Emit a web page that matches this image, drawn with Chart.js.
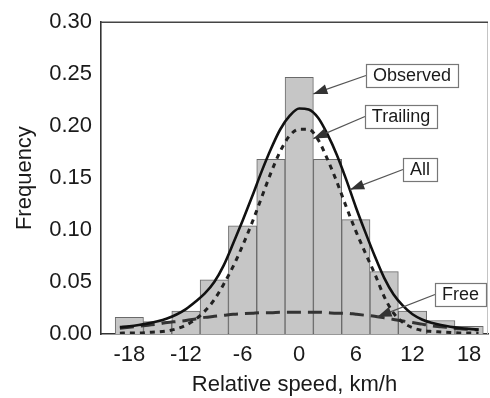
<!DOCTYPE html>
<html>
<head>
<meta charset="utf-8">
<script src="https://cdn.jsdelivr.net/npm/chart.js@4/dist/chart.umd.min.js"></script>
<style>
  html, body { margin: 0; padding: 0; background: #fff; overflow: hidden; }
  #wrap { width: 490px; height: 398px; position: relative; }
</style>
</head>
<body>
<div id="wrap"><canvas id="c" width="490" height="398"></canvas></div>
<script>
// Histogram of relative speed (3 km/h bins) with fitted distributions
const binCenters = [-18, -15, -12, -9, -6, -3, 0, 3, 6, 9, 12, 15, 18];
const observed   = [0.016, 0.012, 0.022, 0.052, 0.104, 0.168, 0.247, 0.168, 0.110, 0.060, 0.022, 0.013, 0.0075];

const curveX = [-19, -18, -17, -16, -15, -14, -13, -12, -11, -10, -9, -8, -7, -6, -5, -4, -3, -2, -1, 0,
                1, 2, 3, 4, 5, 6, 7, 8, 9, 10, 11, 12, 13, 14, 15, 16, 17, 18, 19];
const allFit = [0.0066, 0.0075, 0.0087, 0.0102, 0.0122, 0.0150, 0.0188, 0.0240, 0.0310, 0.0390,
                0.0500, 0.0660, 0.0870, 0.1090, 0.1320, 0.1560, 0.1780, 0.1970, 0.2100, 0.2170,
                0.2160, 0.2080, 0.1920, 0.1720, 0.1480, 0.1220, 0.0980, 0.0750, 0.0540, 0.0380,
                0.0270, 0.0190, 0.0140, 0.0108, 0.0086, 0.0070, 0.0058, 0.0049, 0.0042];
const trailingFit = [0.0008, 0.0010, 0.0010, 0.0015, 0.0020, 0.0030, 0.0050, 0.0085, 0.0140, 0.0220,
                     0.0330, 0.0480, 0.0650, 0.0850, 0.1070, 0.1310, 0.1550, 0.1760, 0.1910, 0.1970,
                     0.1970, 0.1870, 0.1680, 0.1460, 0.1220, 0.0990, 0.0780, 0.0580, 0.0360, 0.0200,
                     0.0110, 0.0060, 0.0035, 0.0025, 0.0020, 0.0015, 0.0010, 0.0010, 0.0008];
const freeFit = [0.0055, 0.0065, 0.0075, 0.0085, 0.0095, 0.0110, 0.0120, 0.0130, 0.0145, 0.0160,
                 0.0170, 0.0180, 0.0190, 0.0195, 0.0200, 0.0205, 0.0205, 0.0210, 0.0210, 0.0210,
                 0.0210, 0.0210, 0.0205, 0.0200, 0.0200, 0.0190, 0.0180, 0.0170, 0.0155, 0.0140,
                 0.0125, 0.0110, 0.0095, 0.0080, 0.0070, 0.0060, 0.0050, 0.0045, 0.0040];

const xTickValues = [-18, -12, -6, 0, 6, 12, 18];
const yTickValues = [0, 0.05, 0.10, 0.15, 0.20, 0.25, 0.30];

// Labelled callouts: box centre and arrow tip, both in data units
const calloutText = ['Observed', 'Trailing', 'All', 'Free'];
const calloutBoxX = [12.0, 10.8, 12.8, 17.05];
const calloutBoxY = [0.2486, 0.2094, 0.158, 0.0382];
const calloutTipX = [1.5, 1.5, 5.4, 8.3];
const calloutTipY = [0.231, 0.188, 0.139, 0.0165];

const FONT = '"Liberation Sans", Arial, Helvetica, sans-serif';
const pts = (xs, ys) => xs.map((x, i) => ({ x: x, y: ys[i] }));

const framePlugin = {
  id: 'frame',
  beforeDatasetsDraw(chart) {
    const { ctx, chartArea: a } = chart;
    ctx.save();
    ctx.strokeStyle = '#c4c4c4';
    ctx.lineWidth = 1;
    ctx.beginPath();
    ctx.moveTo(a.right - 0.5, a.top);
    ctx.lineTo(a.right - 0.5, a.bottom);
    ctx.stroke();
    ctx.strokeStyle = '#444';
    ctx.lineWidth = 1.6;
    ctx.beginPath();
    ctx.moveTo(a.left, a.top);
    ctx.lineTo(a.right, a.top);
    ctx.stroke();
    ctx.restore();
  }
};

const calloutPlugin = {
  id: 'callouts',
  afterDatasetsDraw(chart) {
    const { ctx, scales: { x, y } } = chart;
    ctx.save();
    ctx.font = '18px ' + FONT;
    calloutText.forEach((text, i) => {
      const cx = x.getPixelForValue(calloutBoxX[i]);
      const cy = y.getPixelForValue(calloutBoxY[i]);
      const w = Math.round(ctx.measureText(text).width + 14);
      const h = 23;
      const left = Math.round(cx - w / 2), top = Math.round(cy - h / 2);
      const tx = x.getPixelForValue(calloutTipX[i]);
      const ty = y.getPixelForValue(calloutTipY[i]);
      const sx = left, sy = top + h / 2;
      // leader line
      ctx.strokeStyle = '#555';
      ctx.lineWidth = 1.3;
      ctx.beginPath();
      ctx.moveTo(sx, sy);
      ctx.lineTo(tx, ty);
      ctx.stroke();
      // arrow head
      const ang = Math.atan2(ty - sy, tx - sx);
      const L = 14, W = 5;
      ctx.fillStyle = '#333';
      ctx.beginPath();
      ctx.moveTo(tx, ty);
      ctx.lineTo(tx - L * Math.cos(ang) + W * Math.sin(ang), ty - L * Math.sin(ang) - W * Math.cos(ang));
      ctx.lineTo(tx - L * Math.cos(ang) - W * Math.sin(ang), ty - L * Math.sin(ang) + W * Math.cos(ang));
      ctx.closePath();
      ctx.fill();
      // box
      ctx.fillStyle = '#fff';
      ctx.fillRect(left, top, w, h);
      ctx.strokeStyle = '#777';
      ctx.lineWidth = 1.2;
      ctx.strokeRect(left + 0.5, top + 0.5, w, h);
      ctx.fillStyle = '#1a1a1a';
      ctx.textAlign = 'center';
      ctx.textBaseline = 'middle';
      ctx.fillText(text, left + w / 2, top + h / 2 + 1);
    });
    ctx.restore();
  }
};

new Chart(document.getElementById('c'), {
  type: 'bar',
  data: {
    datasets: [
      {
        type: 'line', label: 'All', data: pts(curveX, allFit),
        borderColor: '#111', borderWidth: 2.6, pointRadius: 0,
        cubicInterpolationMode: 'monotone', fill: false, order: 1
      },
      {
        type: 'line', label: 'Trailing', data: pts(curveX, trailingFit),
        borderColor: '#222', borderWidth: 3, borderDash: [5, 5], pointRadius: 0,
        cubicInterpolationMode: 'monotone', fill: false, order: 2
      },
      {
        type: 'line', label: 'Free', data: pts(curveX, freeFit),
        borderColor: '#333', borderWidth: 3, borderDash: [14, 7], pointRadius: 0,
        cubicInterpolationMode: 'monotone', fill: false, order: 3
      },
      {
        type: 'bar', label: 'Observed', data: pts(binCenters, observed),
        backgroundColor: '#c6c6c6', borderColor: '#6a6a6a', borderWidth: 1,
        barPercentage: 1, categoryPercentage: 1, order: 10
      }
    ]
  },
  options: {
    responsive: false,
    animation: false,
    devicePixelRatio: 1,
    layout: { padding: { left: 0, right: 2, top: 16, bottom: 0 } },
    plugins: { legend: { display: false }, tooltip: { enabled: false } },
    scales: {
      x: {
        type: 'linear', min: -21, max: 20, offset: false,
        grid: { display: false, drawTicks: false },
        border: { display: true, color: '#333', width: 1.6 },
        afterBuildTicks: s => { s.ticks = xTickValues.map(v => ({ value: v })); },
        afterFit: s => { s.height = 64; },
        ticks: {
          padding: 8, color: '#1a1a1a', maxRotation: 0, autoSkip: false,
          font: { family: FONT, size: 22 },
          callback: v => String(v)
        },
        title: {
          display: true, text: 'Relative speed, km/h', color: '#1a1a1a',
          font: { family: FONT, size: 22 }, padding: { top: 0, bottom: 0 }
        }
      },
      y: {
        type: 'linear', min: 0, max: 0.30,
        grid: { display: false, drawTicks: false },
        border: { display: true, color: '#333', width: 1.6 },
        afterBuildTicks: s => { s.ticks = yTickValues.map(v => ({ value: v })); },
        afterFit: s => { s.width = 101; },
        ticks: {
          padding: 9, color: '#1a1a1a',
          font: { family: FONT, size: 22 },
          callback: v => Number(v).toFixed(2)
        },
        title: {
          display: true, text: 'Frequency', color: '#1a1a1a',
          font: { family: FONT, size: 22 }, padding: { top: 12, bottom: 0 }
        }
      }
    }
  },
  plugins: [framePlugin, calloutPlugin]
});
</script>
</body>
</html>
